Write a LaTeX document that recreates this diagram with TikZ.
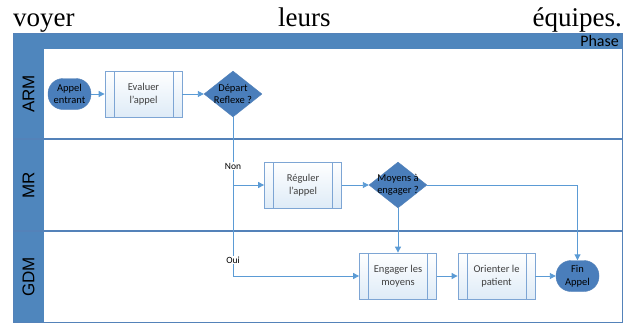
\documentclass[tikz,border=0pt]{standalone}
\usepackage{fontspec}
\setmainfont{Liberation Serif}
\newfontfamily\calib{Carlito}
\newfontfamily\arial{Liberation Sans}
\usetikzlibrary{shapes.geometric,arrows.meta}
\definecolor{bandblue}{HTML}{4F86BD}
\definecolor{flowblue}{HTML}{5B9BD5}
\definecolor{edgeblue}{HTML}{7DA5D4}
\definecolor{paleblue}{HTML}{DEEBF7}
\definecolor{inkblue}{HTML}{14233C}
\definecolor{frameblue}{HTML}{5482B9}
\definecolor{termblue}{HTML}{4A7EBB}
\definecolor{greytext}{HTML}{404040}
\tikzset{
  proc/.style={rectangle, draw=edgeblue, line width=0.8pt, top color=white, bottom color=paleblue,
    minimum width=77pt, minimum height=46pt, align=center, text=greytext,
    font=\calib\fontsize{10.5}{12.5}\selectfont,
    path picture={\draw[edgeblue, line width=0.8pt]
      ([xshift=9pt]path picture bounding box.north west) -- ([xshift=9pt]path picture bounding box.south west)
      ([xshift=-9pt]path picture bounding box.north east) -- ([xshift=-9pt]path picture bounding box.south east);}},
  term/.style={rectangle, rounded corners=15pt, draw=frameblue, fill=termblue, minimum width=43pt,
    minimum height=31pt, inner sep=1pt, align=center, text=black, font=\calib\fontsize{10.5}{12.5}\selectfont},
  decide/.style={diamond, draw=frameblue, fill=termblue, minimum width=58pt, minimum height=46pt, inner sep=0pt},
  dtext/.style={align=center, text=black, font=\calib\fontsize{10.5}{12}\selectfont},
  flow/.style={draw=flowblue, line width=0.9pt, -{Triangle[length=6pt,width=6pt]}},
  link/.style={draw=flowblue, line width=0.9pt},
  tag/.style={fill=white, inner sep=1pt, text=black, font=\calib\fontsize{9.5}{10}\selectfont},
  lane/.style={rotate=90, text=black, font=\arial\fontsize{17}{17}\selectfont},
  word/.style={inner sep=0pt, font=\fontsize{27}{30}\selectfont}
}
\begin{document}
\begin{tikzpicture}[x=1pt,y=-1pt]
  \useasboundingbox (0,0) rectangle (632,324);
  % text above the diagram
  \node[word, anchor=base west] (w1) at (13,27) {voyer};
  \node[word, anchor=base west] (w2) at (278,27) {leurs};
  \node[word, anchor=base east] (w3) at (622,27) {équipes.};
  % pool and lanes
  \fill[bandblue] (13,33) rectangle (622,49);
  \fill[bandblue] (13,49) rectangle (44,322);
  \draw[frameblue, line width=1.2pt] (13,139) -- (622,139);
  \draw[frameblue, line width=1.2pt] (13,231) -- (622,231);
  \draw[frameblue, line width=1pt] (13,33) rectangle (622,322);
  \node[anchor=east, text=black, font=\calib\fontsize{16}{16}\selectfont, inner sep=1pt] (phase) at (620,41.5) {Phase};
  \node[lane] (arm) at (28.5,94) {ARM};
  \node[lane] (mr) at (28.5,185) {MR};
  \node[lane] (gdm) at (28.5,277) {GDM};
  % steps
  \node[term] (start) at (69.5,94) {Appel\\entrant};
  \node[proc] (eval) at (143.5,94) {Evaluer\\l’appel};
  \node[decide] (dep) at (233,94) {};
  \node[dtext] (deptxt) at (dep.center) {Départ\\Reflexe ?};
  \node[proc] (reg) at (303,185) {Réguler\\l’appel};
  \node[decide] (moy) at (398,185) {};
  \node[dtext] (moytxt) at (moy.center) {Moyens à\\engager ?};
  \node[proc] (eng) at (398,276) {Engager les\\moyens};
  \node[proc] (ori) at (496.5,276) {Orienter le\\patient};
  \node[term] (fin) at (577.5,276) {Fin\\Appel};
  \coordinate (nonpt) at (233,185);
  \coordinate (ouipt) at (233,276);
  % connectors
  \draw[flow] (start) -- (eval);
  \draw[flow] (eval) -- (dep);
  \draw[link] (dep.south) -- (ouipt);
  \draw[flow] (ouipt) -- (eng.west);
  \draw[flow] (nonpt) -- (reg.west);
  \draw[flow] (reg) -- (moy);
  \draw[flow] (moy.east) -| (fin.north);
  \draw[flow] (moy.south) -- (eng.north);
  \draw[flow] (eng) -- (ori);
  \draw[flow] (ori) -- (fin);
  \node[tag] (non) at (233,166) {Non};
  \node[tag] (oui) at (233,260) {Oui};
\end{tikzpicture}
\end{document}
